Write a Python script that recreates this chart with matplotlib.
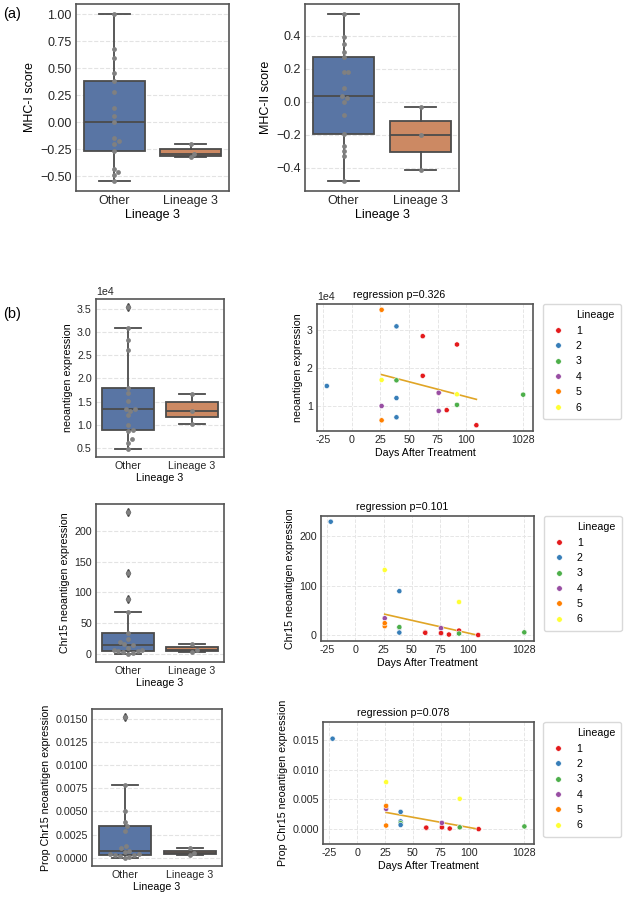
import numpy as np
import matplotlib.pyplot as plt
from matplotlib.lines import Line2D

plt.rcParams['font.family'] = ['Liberation Sans', 'DejaVu Sans']

# (a) MHC scores, Other vs Lineage 3
groups = ['Other', 'Lineage 3']
mhc1_other = [1.00, 0.68, 0.59, 0.45, 0.38, 0.275, 0.13, 0.055, 0.00, -0.15,
              -0.175, -0.20, -0.27, -0.43, -0.46, -0.49, -0.545]
mhc1_lin3 = [-0.20, -0.295, -0.325]
mhc2_other = [0.53, 0.39, 0.35, 0.30, 0.27, 0.18, 0.18, 0.08, 0.035, 0.02,
              -0.004, -0.08, -0.198, -0.27, -0.30, -0.33, -0.48]
mhc2_lin3 = [-0.03, -0.20, -0.415]

# (b) per sample: lineage, days after treatment, expression values
lineage = [2, 5, 6, 4, 5, 2, 2, 3, 2, 1, 1, 4, 1, 4, 1, 1, 6, 3, 1, 3]
days = [-22, 26, 26, 26, 26, 39, 39, 39, 39, 62, 62, 76, 76, 76, 83, 92, 92, 92, 109, 1028]
neo = [15200, 35400, 16800, 9900, 6100, 31000, 12000, 16700, 6900, 28400,
       17900, 8600, 13400, 13400, 8800, 26200, 13000, 10200, 4800, 12900]
chr15 = [230, 18, 132, 34, 24, 89, 15, 16, 5, 5.5,
         4.5, 3, 4, 14, 1, 9, 67, 3, 0, 5.4]
prop = [0.0152, 0.0006, 0.0079, 0.0034, 0.0039, 0.0029, 0.0013, 0.0010, 0.0007, 0.0002,
        0.00025, 0.00035, 0.0003, 0.00105, 0.0001, 0.00035, 0.0051, 0.0003, 0.0, 0.00045]
pvals = ['0.326', '0.101', '0.078']
ylabels = ['neoantigen expression', 'Chr15 neoantigen expression',
           'Prop Chr15 neoantigen expression']

lin_colors = {1: '#e41a1c', 2: '#377eb8', 3: '#4daf4a', 4: '#984ea3', 5: '#ff7f00', 6: '#ffff33'}
box_colors = ['#5975a4', '#cc8963']
edge = '#4b4b4b'
spine_c = '#555555'

W, H = 626, 900
fig = plt.figure(figsize=(W / 100, H / 100), dpi=100)


def add_ax(x0, y0, x1, y1):
    return fig.add_axes([x0 / W, 1 - y1 / H, (x1 - x0) / W, (y1 - y0) / H])


def style(ax, fs):
    for s in ax.spines.values():
        s.set_color(spine_c)
        s.set_linewidth(1.2)
    ax.tick_params(length=0, labelsize=fs, pad=3, colors='#262626')
    ax.set_axisbelow(True)


def swarm(ax, center, vals, diam):
    tr = ax.transData
    pts = tr.transform(np.column_stack([np.full(len(vals), center), vals]))
    xc = pts[0, 0]
    ys = pts[:, 1]
    offs = np.zeros(len(vals))
    placed = []
    for i in np.argsort(ys):
        for k in range(60):
            o = ((k + 1) // 2) * diam * 0.25 * (1 if k % 2 else -1)
            if all((o - px) ** 2 + (ys[i] - py) ** 2 >= diam ** 2 for px, py in placed):
                break
        offs[i] = o
        placed.append((o, ys[i]))
    inv = tr.inverted()
    return inv.transform(np.column_stack([xc + offs, ys]))[:, 0]


def box_panel(ax, data, ylabel, fs, sci=False):
    bp = ax.boxplot(data, positions=[0, 1], widths=0.8, patch_artist=True,
                    boxprops=dict(edgecolor=edge, linewidth=1.3),
                    whiskerprops=dict(color=edge, linewidth=1.3),
                    capprops=dict(color=edge, linewidth=1.3),
                    medianprops=dict(color=edge, linewidth=1.3),
                    flierprops=dict(marker='d', markerfacecolor=edge, markeredgecolor=edge,
                                    markersize=4))
    for patch, c in zip(bp['boxes'], box_colors):
        patch.set_facecolor(c)
    ax.set_xlim(-0.5, 1.5)
    ax.set_xticks([0, 1], groups)
    ax.set_xlabel('Lineage 3', fontsize=fs, labelpad=1)
    ax.set_ylabel(ylabel, fontsize=fs, labelpad=3)
    ax.yaxis.grid(True, ls='--', color='#e3e3e3', lw=0.8)
    style(ax, fs)
    if sci:
        ax.ticklabel_format(axis='y', style='sci', scilimits=(4, 4))
        ax.yaxis.get_offset_text().set_fontsize(fs)
    allv = np.concatenate(data)
    pad = (allv.max() - allv.min()) * 0.06
    ax.set_ylim(allv.min() - pad, allv.max() + pad)
    for pos, vals in zip([0, 1], data):
        xs = swarm(ax, pos, vals, 4.8)
        ax.scatter(xs, vals, s=12, color='#808080', zorder=3, linewidths=0)


fs_a = 9
ax = add_ax(76, 4, 229, 191)
box_panel(ax, [np.array(mhc1_other), np.array(mhc1_lin3)], 'MHC-I score', fs_a)
ax = add_ax(305, 4, 459, 191)
box_panel(ax, [np.array(mhc2_other), np.array(mhc2_lin3)], 'MHC-II score', fs_a)
fig.text(3 / W, 1 - 14 / H, '(a)', fontsize=10.5, va='center')
fig.text(3 / W, 1 - 314 / H, '(b)', fontsize=10.5, va='center')

lineage = np.array(lineage)
days = np.array(days)
xpos = np.where(days > 200, 150, days)
is3 = lineage == 3

box_rects = [(96, 299, 224, 457), (96, 504, 224, 662), (92, 709, 222, 866)]
sc_rects = [(317, 304, 533, 431), (321, 516, 534, 641), (323, 722, 534, 844)]
fs_b = 7.7
for i, vals in enumerate([neo, chr15, prop]):
    vals = np.array(vals, dtype=float)
    ax = add_ax(*box_rects[i])
    box_panel(ax, [vals[~is3], vals[is3]], ylabels[i], fs_b, sci=(i == 0))

    ax = add_ax(*sc_rects[i])
    ax.scatter(xpos, vals, c=[lin_colors[l] for l in lineage], s=14,
               edgecolors='white', linewidths=0.4, zorder=3)
    sub = (days > 0) & (days < 1000)
    k, b = np.polyfit(days[sub], vals[sub], 1)
    xl = np.array([days[sub].min(), days[sub].max()])
    ax.plot(xl, k * xl + b, color='#e0a526', lw=1.2, zorder=2)
    ax.set_xticks([-25, 0, 25, 50, 75, 100, 150],
                  ['-25', '0', '25', '50', '75', '100', str(days.max())])
    ax.grid(True, ls='--', color='#e6e6e6', lw=0.7)
    style(ax, fs_b)
    ax.set_xlabel('Days After Treatment', fontsize=fs_b, labelpad=2)
    ax.set_ylabel(ylabels[i], fontsize=fs_b, labelpad=3)
    ax.set_title('regression p=' + pvals[i], fontsize=fs_b, pad=4, x=0.38)
    if i == 0:
        ax.ticklabel_format(axis='y', style='sci', scilimits=(4, 4))
        ax.yaxis.get_offset_text().set_fontsize(fs_b)
    if i == 2:
        ax.set_ylim(-0.0025, 0.018)
    handles = [Line2D([], [], ls='none', marker='')]
    labels = ['Lineage']
    for l in sorted(lin_colors):
        handles.append(Line2D([], [], ls='none', marker='o', markersize=4,
                              markerfacecolor=lin_colors[l], markeredgecolor='white',
                              markeredgewidth=0.4))
        labels.append(str(l))
    ax.legend(handles, labels, loc='upper left', bbox_to_anchor=(1.045, 1.0),
              fontsize=fs_b, frameon=True, edgecolor='#d0d0d0', fancybox=True,
              labelspacing=0.5, handletextpad=0.9, borderpad=0.6, handlelength=1.6,
              borderaxespad=0)

fig.savefig('out.png', dpi=100)
